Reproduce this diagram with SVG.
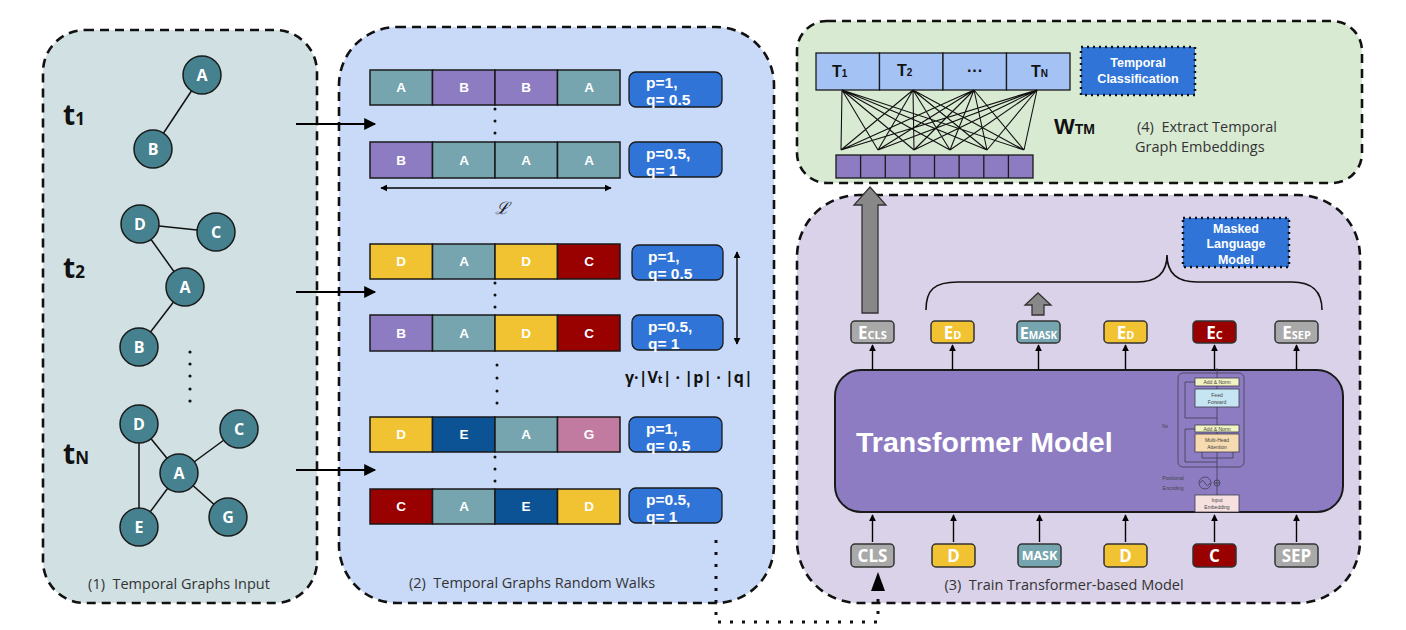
<svg xmlns="http://www.w3.org/2000/svg" width="1406" height="630" viewBox="0 0 1406 630">
<defs>
<marker id="ah" viewBox="0 0 10 10" refX="9" refY="5" markerWidth="10" markerHeight="10" markerUnits="userSpaceOnUse" orient="auto-start-reverse"><path d="M0,0 L10,5 L0,10 z" fill="#000"/></marker>
<marker id="ahs" viewBox="0 0 10 10" refX="9" refY="5" markerWidth="7" markerHeight="7" markerUnits="userSpaceOnUse" orient="auto-start-reverse"><path d="M0,0 L10,5 L0,10 z" fill="#000"/></marker>
<marker id="ahb" viewBox="0 0 10 10" refX="9" refY="5" markerWidth="16" markerHeight="12" markerUnits="userSpaceOnUse" orient="auto"><path d="M0,0 L10,5 L0,10 z" fill="#000"/></marker>
</defs>
<style>
.panel{stroke:#111;stroke-width:2.6;stroke-dasharray:9 6}
.nd{fill:#45818e;stroke:#1a1a1a;stroke-width:1.5}
.ndt{font-family:"Open Sans",sans-serif;font-weight:700;font-size:16px;fill:#fff;text-anchor:middle}
.edge{stroke:#111;stroke-width:1.5}
.tl{font-family:"Open Sans",sans-serif;font-weight:700;font-size:28px;fill:#111}
.cap{font-family:"Open Sans",sans-serif;font-size:14.5px;fill:#333;text-anchor:middle}
.capl{font-family:"Open Sans",sans-serif;font-size:14.5px;fill:#333}
.cell{stroke:#1a1a1a;stroke-width:1.5}
.ct{font-family:"Liberation Sans",Arial,sans-serif;font-weight:700;font-size:13.5px;fill:#fff;text-anchor:middle}
.pq{fill:#2f74d6;stroke:#1a1a1a;stroke-width:1.3}
.pqt{font-family:"Liberation Sans",Arial,sans-serif;font-weight:700;font-size:15.5px;fill:#fff}
.dot{fill:#111}
.A{fill:#76a5af}.B{fill:#8e7cc3}.D{fill:#f1c232}.C{fill:#990000}.E{fill:#0b5394}.G{fill:#c27ba0}.GR{fill:#a9a9a9}
.arr{stroke:#000;stroke-width:2.2;fill:none}
.sa{stroke:#000;stroke-width:1.4;fill:none}
.eb{stroke:#333;stroke-width:1.5}
.et{font-family:"Open Sans",sans-serif;font-weight:700;font-size:17px;fill:#fff;text-anchor:middle}
.mini{font-family:"Liberation Sans",Arial,sans-serif;font-size:5px;fill:#444;text-anchor:middle}
.bluebox{fill:#2f74d6;stroke:#111;stroke-width:2.5;stroke-dasharray:2 4}
.bbt{font-family:"Liberation Sans",Arial,sans-serif;font-weight:700;font-size:12.5px;fill:#fff;text-anchor:middle}
</style>

<!-- Panels -->
<g id="panel1"><rect class="panel" x="43" y="30" width="274" height="573" rx="42" fill="#d0e0e3"/></g>
<g id="panel2"><rect class="panel" x="339" y="27" width="435" height="576" rx="58" fill="#c9daf8"/></g>
<g id="panel4"><rect class="panel" x="797" y="21" width="565" height="162" rx="30" fill="#d9ead3"/></g>
<g id="panel3"><rect class="panel" x="797" y="195" width="563" height="408" rx="62" fill="#d9d2e9"/></g>

<!-- Panel 1: temporal graphs -->
<g id="graph-edges">
<line class="edge" x1="202" y1="75" x2="153" y2="149"/>
<line class="edge" x1="140" y1="224" x2="216" y2="232"/>
<line class="edge" x1="140" y1="224" x2="185" y2="287"/>
<line class="edge" x1="185" y1="287" x2="139" y2="347"/>
<line class="edge" x1="139" y1="424" x2="179" y2="473"/>
<line class="edge" x1="139" y1="424" x2="139" y2="527"/>
<line class="edge" x1="179" y1="473" x2="239" y2="429"/>
<line class="edge" x1="179" y1="473" x2="139" y2="527"/>
<line class="edge" x1="179" y1="473" x2="228" y2="517"/>
</g>
<g id="g1-A"><circle class="nd" cx="202" cy="75" r="19"/><text class="ndt" x="202" y="81">A</text></g>
<g id="g1-B"><circle class="nd" cx="153" cy="149" r="19"/><text class="ndt" x="153" y="155">B</text></g>
<g id="g2-D"><circle class="nd" cx="140" cy="224" r="19"/><text class="ndt" x="140" y="230">D</text></g>
<g id="g2-C"><circle class="nd" cx="216" cy="232" r="19"/><text class="ndt" x="216" y="238">C</text></g>
<g id="g2-A"><circle class="nd" cx="185" cy="287" r="19"/><text class="ndt" x="185" y="293">A</text></g>
<g id="g2-B"><circle class="nd" cx="139" cy="347" r="19"/><text class="ndt" x="139" y="353">B</text></g>
<g id="gN-D"><circle class="nd" cx="139" cy="424" r="19"/><text class="ndt" x="139" y="430">D</text></g>
<g id="gN-C"><circle class="nd" cx="239" cy="429" r="19"/><text class="ndt" x="239" y="435">C</text></g>
<g id="gN-A"><circle class="nd" cx="179" cy="473" r="19"/><text class="ndt" x="179" y="479">A</text></g>
<g id="gN-E"><circle class="nd" cx="139" cy="527" r="19"/><text class="ndt" x="139" y="533">E</text></g>
<g id="gN-G"><circle class="nd" cx="228" cy="517" r="19"/><text class="ndt" x="228" y="523">G</text></g>
<g id="g-dots"><circle class="dot" cx="190" cy="352" r="1.6"/><circle class="dot" cx="190" cy="364" r="1.6"/><circle class="dot" cx="190" cy="376" r="1.6"/><circle class="dot" cx="190" cy="389" r="1.6"/><circle class="dot" cx="190" cy="401" r="1.6"/></g>
<g id="t-labels">
<text class="tl" x="63" y="125">t<tspan font-size="17">1</tspan></text>
<text class="tl" x="63" y="278">t<tspan font-size="17">2</tspan></text>
<text class="tl" x="63" y="464">t<tspan font-size="17">N</tspan></text>
</g>
<text class="cap" x="179" y="589" xml:space="preserve">(1)  Temporal Graphs Input</text>

<!-- Panel 2: random walks -->
<g id="walk1">
<rect class="cell A" x="370" y="70" width="62.5" height="35"/><rect class="cell B" x="432.5" y="70" width="62.5" height="35"/><rect class="cell B" x="495" y="70" width="62.5" height="35"/><rect class="cell A" x="557.5" y="70" width="62.5" height="35"/>
<text class="ct" x="401" y="92">A</text><text class="ct" x="464" y="92">B</text><text class="ct" x="526" y="92">B</text><text class="ct" x="589" y="92">A</text>
<rect class="pq" x="629" y="72" width="93" height="35" rx="7"/><text class="pqt" x="646" y="88">p=1,</text><text class="pqt" x="646" y="105">q= 0.5</text>
</g>
<g id="walk2">
<rect class="cell B" x="370" y="142" width="62.5" height="36"/><rect class="cell A" x="432.5" y="142" width="62.5" height="36"/><rect class="cell A" x="495" y="142" width="62.5" height="36"/><rect class="cell A" x="557.5" y="142" width="62.5" height="36"/>
<text class="ct" x="401" y="165">B</text><text class="ct" x="464" y="165">A</text><text class="ct" x="526" y="165">A</text><text class="ct" x="589" y="165">A</text>
<rect class="pq" x="629" y="142" width="93" height="35" rx="7"/><text class="pqt" x="646" y="159">p=0.5,</text><text class="pqt" x="646" y="176">q= 1</text>
</g>
<g id="walk3">
<rect class="cell D" x="370" y="244" width="62.5" height="35"/><rect class="cell A" x="432.5" y="244" width="62.5" height="35"/><rect class="cell D" x="495" y="244" width="62.5" height="35"/><rect class="cell C" x="557.5" y="244" width="62.5" height="35"/>
<text class="ct" x="401" y="266">D</text><text class="ct" x="464" y="266">A</text><text class="ct" x="526" y="266">D</text><text class="ct" x="589" y="266">C</text>
<rect class="pq" x="632" y="245" width="91" height="35" rx="7"/><text class="pqt" x="648" y="262">p=1,</text><text class="pqt" x="648" y="279">q= 0.5</text>
</g>
<g id="walk4">
<rect class="cell B" x="370" y="315" width="62.5" height="36"/><rect class="cell A" x="432.5" y="315" width="62.5" height="36"/><rect class="cell D" x="495" y="315" width="62.5" height="36"/><rect class="cell C" x="557.5" y="315" width="62.5" height="36"/>
<text class="ct" x="401" y="338">B</text><text class="ct" x="464" y="338">A</text><text class="ct" x="526" y="338">D</text><text class="ct" x="589" y="338">C</text>
<rect class="pq" x="632" y="315" width="91" height="35" rx="7"/><text class="pqt" x="648" y="332">p=0.5,</text><text class="pqt" x="648" y="349">q= 1</text>
</g>
<g id="walk5">
<rect class="cell D" x="370" y="417" width="62.5" height="35"/><rect class="cell E" x="432.5" y="417" width="62.5" height="35"/><rect class="cell A" x="495" y="417" width="62.5" height="35"/><rect class="cell G" x="557.5" y="417" width="62.5" height="35"/>
<text class="ct" x="401" y="439">D</text><text class="ct" x="464" y="439">E</text><text class="ct" x="526" y="439">A</text><text class="ct" x="589" y="439">G</text>
<rect class="pq" x="629" y="417" width="93" height="35" rx="7"/><text class="pqt" x="646" y="434">p=1,</text><text class="pqt" x="646" y="451">q= 0.5</text>
</g>
<g id="walk6">
<rect class="cell C" x="370" y="489" width="62.5" height="35"/><rect class="cell A" x="432.5" y="489" width="62.5" height="35"/><rect class="cell E" x="495" y="489" width="62.5" height="35"/><rect class="cell D" x="557.5" y="489" width="62.5" height="35"/>
<text class="ct" x="401" y="511">C</text><text class="ct" x="464" y="511">A</text><text class="ct" x="526" y="511">E</text><text class="ct" x="589" y="511">D</text>
<rect class="pq" x="629" y="488" width="93" height="35" rx="7"/><text class="pqt" x="646" y="505">p=0.5,</text><text class="pqt" x="646" y="522">q= 1</text>
</g>
<g id="walk-dots">
<circle class="dot" cx="495" cy="109" r="1.5"/><circle class="dot" cx="495" cy="121" r="1.5"/><circle class="dot" cx="495" cy="133" r="1.5"/>
<circle class="dot" cx="495" cy="283" r="1.5"/><circle class="dot" cx="495" cy="295" r="1.5"/><circle class="dot" cx="495" cy="307" r="1.5"/>
<circle class="dot" cx="497" cy="365" r="1.5"/><circle class="dot" cx="497" cy="378" r="1.5"/><circle class="dot" cx="497" cy="391" r="1.5"/><circle class="dot" cx="497" cy="403" r="1.5"/>
<circle class="dot" cx="495" cy="457" r="1.5"/><circle class="dot" cx="495" cy="469" r="1.5"/><circle class="dot" cx="495" cy="481" r="1.5"/>
</g>
<g id="length-L">
<line class="sa" x1="381" y1="188" x2="611" y2="188" marker-start="url(#ahs)" marker-end="url(#ahs)"/>
<text x="502" y="214" font-family="DejaVu Serif,serif" font-style="italic" font-size="17" fill="#222" text-anchor="middle">ℒ</text>
</g>
<g id="count-arrow">
<line class="sa" x1="737" y1="252" x2="737" y2="344" marker-start="url(#ahs)" marker-end="url(#ahs)"/>
<text x="625" y="383" font-family="Open Sans,sans-serif" font-weight="700" font-size="16" fill="#111">γ·|V<tspan font-size="11">t</tspan>| · |p| · |q|</text>
</g>
<text class="cap" x="532" y="588" xml:space="preserve">(2)  Temporal Graphs Random Walks</text>

<!-- Panel 4: extract embeddings -->
<g id="T-row">
<rect x="816" y="53" width="63.5" height="37" fill="#a4c2f4" stroke="#1a1a1a" stroke-width="1.3"/>
<rect x="879.5" y="53" width="63.5" height="37" fill="#a4c2f4" stroke="#1a1a1a" stroke-width="1.3"/>
<rect x="943" y="53" width="63.5" height="37" fill="#a4c2f4" stroke="#1a1a1a" stroke-width="1.3"/>
<rect x="1006.5" y="53" width="63.5" height="37" fill="#a4c2f4" stroke="#1a1a1a" stroke-width="1.3"/>
<text x="832" y="77" font-family="Liberation Sans,Arial,sans-serif" font-weight="700" font-size="16" fill="#111">T<tspan font-size="10">1</tspan></text>
<text x="897" y="76" font-family="Liberation Sans,Arial,sans-serif" font-weight="700" font-size="16" fill="#111">T<tspan font-size="10">2</tspan></text>
<text x="975" y="76" font-family="Liberation Sans,Arial,sans-serif" font-weight="700" font-size="16" fill="#111" text-anchor="middle">···</text>
<text x="1031" y="77" font-family="Liberation Sans,Arial,sans-serif" font-weight="700" font-size="16" fill="#111">T<tspan font-size="10">N</tspan></text>
</g>
<g id="weights">
<path stroke="#111" stroke-width="1.1" fill="none" d="M842,90L841,150M842,90L878,150M842,90L914,150M842,90L950,150M842,90L987,150M842,90L1024,150 M913,90L841,150M913,90L878,150M913,90L914,150M913,90L950,150M913,90L987,150M913,90L1024,150 M974,90L841,150M974,90L878,150M974,90L914,150M974,90L950,150M974,90L987,150M974,90L1024,150 M1037,90L841,150M1037,90L878,150M1037,90L914,150M1037,90L950,150M1037,90L987,150M1037,90L1024,150"/>
</g>
<g id="cls-embedding">
<rect x="836" y="155" width="197" height="23" fill="#8e7cc3" stroke="#1a1a1a" stroke-width="1.3"/>
<path stroke="#1a1a1a" stroke-width="1.3" d="M860.6,155V178M885.3,155V178M909.9,155V178M934.5,155V178M959.1,155V178M983.8,155V178M1008.4,155V178"/>
</g>
<text x="1054" y="134" font-family="Liberation Sans,Arial,sans-serif" font-weight="700" font-size="22" fill="#111">W<tspan font-size="14">TM</tspan></text>
<g id="temporal-classification">
<rect class="bluebox" x="1081" y="47" width="114" height="48"/>
<text class="bbt" x="1138" y="67">Temporal</text>
<text class="bbt" x="1138" y="83">Classification</text>
</g>
<text class="capl" x="1137" y="132" xml:space="preserve">(4)  Extract Temporal</text>
<text class="capl" x="1135" y="152">Graph Embeddings</text>

<!-- Panel 3: transformer -->
<g id="transformer">
<rect x="835" y="370" width="508" height="142" rx="26" fill="#8e7cc3" stroke="#1a1a1a" stroke-width="2"/>
<text x="856" y="452" font-family="Liberation Sans,Arial,sans-serif" font-weight="700" font-size="28.5" fill="#fff">Transformer Model</text>
<g id="mini-transformer" stroke="#3d3d4d" stroke-width="0.8" fill="none">
<line x1="1217" y1="495" x2="1217" y2="368"/>
<rect x="1178" y="373" width="66" height="94" rx="5"/>
<path d="M1217,418 H1185 V382 H1195"/>
<path d="M1217,462 H1185 V429 H1195"/>
<path d="M1202,452 V458 H1233 V452"/>
<rect x="1195" y="378" width="44" height="8" fill="#f2f3c2"/>
<rect x="1195" y="389" width="44" height="18" fill="#c6e5f3"/>
<rect x="1195" y="425" width="44" height="7" fill="#f2f3c2"/>
<rect x="1195" y="434" width="44" height="18" fill="#f6dab0"/>
<rect x="1195" y="495" width="44" height="17" fill="#f6e1e0"/>
<circle cx="1205" cy="483" r="6"/>
<path d="M1200,483 q2.5,-5 5,0 t5,0"/>
<circle cx="1217" cy="483" r="3" fill="#8e7cc3"/>
<path d="M1214,483 h6 M1217,480 v6"/>
</g>
<g id="mini-labels">
<text class="mini" x="1217" y="384">Add &amp; Norm</text>
<text class="mini" x="1217" y="397">Feed</text>
<text class="mini" x="1217" y="404">Forward</text>
<text class="mini" x="1217" y="431">Add &amp; Norm</text>
<text class="mini" x="1217" y="442">Multi-Head</text>
<text class="mini" x="1217" y="449">Attention</text>
<text class="mini" x="1217" y="502">Input</text>
<text class="mini" x="1217" y="509">Embedding</text>
<text class="mini" x="1173" y="480">Positional</text>
<text class="mini" x="1173" y="490">Encoding</text>
<text class="mini" x="1165" y="428">Nx</text>
</g>
</g>
<g id="outputs">
<g id="E-cls"><rect class="eb GR" x="851" y="321" width="43" height="22" rx="4"/><text class="et" x="872.5" y="338.5">E<tspan font-size="11">CLS</tspan></text></g>
<g id="E-D1"><rect class="eb D" x="931" y="321" width="43" height="22" rx="4"/><text class="et" x="952.5" y="338.5">E<tspan font-size="11">D</tspan></text></g>
<g id="E-MASK"><rect class="eb A" x="1017" y="321" width="43" height="22" rx="4"/><text class="et" x="1038.5" y="338.5" style="font-size:16px">E<tspan font-size="10">MASK</tspan></text></g>
<g id="E-D2"><rect class="eb D" x="1104" y="321" width="43" height="22" rx="4"/><text class="et" x="1125.5" y="338.5">E<tspan font-size="11">D</tspan></text></g>
<g id="E-C"><rect class="eb C" x="1193" y="321" width="43" height="22" rx="4"/><text class="et" x="1214.5" y="338.5">E<tspan font-size="11">C</tspan></text></g>
<g id="E-SEP"><rect class="eb GR" x="1275" y="321" width="43" height="22" rx="4"/><text class="et" x="1296.5" y="338.5">E<tspan font-size="11">SEP</tspan></text></g>
</g>
<g id="inputs">
<g id="tok-CLS"><rect class="eb GR" x="851" y="544" width="43" height="23" rx="4"/><text class="et" x="872.5" y="561.5">CLS</text></g>
<g id="tok-D1"><rect class="eb D" x="932" y="544" width="43" height="23" rx="4"/><text class="et" x="953.5" y="561.5">D</text></g>
<g id="tok-MASK"><rect class="eb A" x="1018" y="544" width="43" height="23" rx="4"/><text class="et" x="1039.5" y="560" style="font-size:12.5px">MASK</text></g>
<g id="tok-D2"><rect class="eb D" x="1104" y="544" width="43" height="23" rx="4"/><text class="et" x="1125.5" y="561.5">D</text></g>
<g id="tok-C"><rect class="eb C" x="1193" y="544" width="43" height="23" rx="4"/><text class="et" x="1214.5" y="561.5">C</text></g>
<g id="tok-SEP"><rect class="eb GR" x="1275" y="544" width="43" height="23" rx="4"/><text class="et" x="1296.5" y="561.5">SEP</text></g>
</g>
<g id="mlm">
<path d="M926,310 C926,290 934,282 958,282 L1137,282 C1158,282 1167,272 1167,255 C1167,272 1176,282 1197,282 L1292,282 C1313,282 1322,292 1322,310" fill="none" stroke="#111" stroke-width="1.6"/>
<rect class="bluebox" x="1183" y="218" width="106" height="49"/>
<text class="bbt" x="1236" y="233">Masked</text>
<text class="bbt" x="1236" y="248">Language</text>
<text class="bbt" x="1236" y="264">Model</text>
</g>
<text class="cap" x="1064" y="590" xml:space="preserve">(3)  Train Transformer-based Model</text>

<!-- Connectors -->
<g id="connectors">
<line class="arr" x1="296" y1="124" x2="375" y2="124" marker-end="url(#ahb)"/>
<line class="arr" x1="296" y1="292" x2="375" y2="292" marker-end="url(#ahb)"/>
<line class="arr" x1="296" y1="470" x2="375" y2="470" marker-end="url(#ahb)"/>
<g class="up-out">
<line class="sa" x1="872.5" y1="370" x2="872.5" y2="345" marker-end="url(#ahs)"/>
<line class="sa" x1="952.5" y1="370" x2="952.5" y2="345" marker-end="url(#ahs)"/>
<line class="sa" x1="1038.5" y1="370" x2="1038.5" y2="345" marker-end="url(#ahs)"/>
<line class="sa" x1="1125.5" y1="370" x2="1125.5" y2="345" marker-end="url(#ahs)"/>
<line class="sa" x1="1214.5" y1="370" x2="1214.5" y2="345" marker-end="url(#ahs)"/>
<line class="sa" x1="1296.5" y1="370" x2="1296.5" y2="345" marker-end="url(#ahs)"/>
</g>
<g class="up-in">
<line class="sa" x1="872.5" y1="542" x2="872.5" y2="515" marker-end="url(#ahs)"/>
<line class="sa" x1="953.5" y1="542" x2="953.5" y2="515" marker-end="url(#ahs)"/>
<line class="sa" x1="1039.5" y1="542" x2="1039.5" y2="515" marker-end="url(#ahs)"/>
<line class="sa" x1="1125.5" y1="542" x2="1125.5" y2="515" marker-end="url(#ahs)"/>
<line class="sa" x1="1214.5" y1="542" x2="1214.5" y2="515" marker-end="url(#ahs)"/>
<line class="sa" x1="1296.5" y1="542" x2="1296.5" y2="515" marker-end="url(#ahs)"/>
</g>
<polygon points="862,313 862,205 854,205 870,187 886,205 878,205 878,313" fill="#888" stroke="#333" stroke-width="1.3"/>
<polygon points="1032,315 1032,305 1025,305 1038,293 1051,305 1044,305 1044,315" fill="#888" stroke="#333" stroke-width="1.3"/>
<path d="M716,540 V622 H878 V592" fill="none" stroke="#111" stroke-width="3" stroke-dasharray="3 9"/>
<polygon points="878,572 871,591 885,591" fill="#000"/>
</g>
</svg>
